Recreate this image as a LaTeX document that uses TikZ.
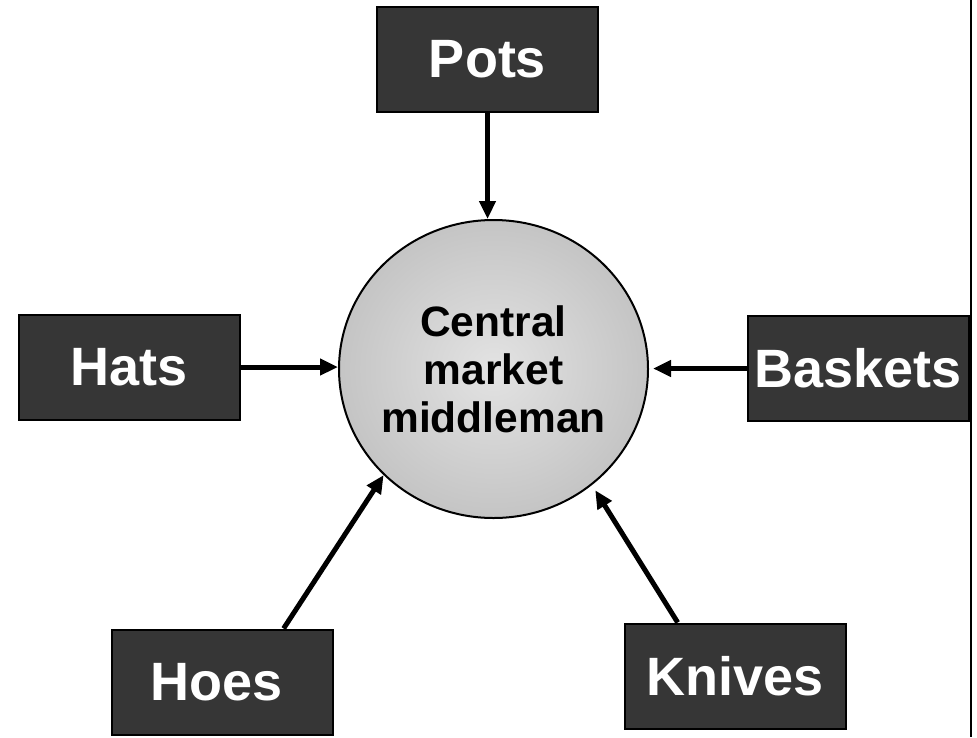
\documentclass[tikz,border=0pt]{standalone}
\usepackage{fontspec}
\setmainfont{Liberation Sans}
\usetikzlibrary{arrows.meta,shapes.geometric,calc}
\definecolor{boxfill}{HTML}{363636}
\tikzset{
  goodbox/.style={draw=black, line width=2pt, fill=boxfill, text=white,
    minimum width=221pt, minimum height=105pt, inner sep=0pt,
    font=\fontsize{54}{60}\selectfont\bfseries},
  hub/.style={ellipse, draw=black, line width=2pt,
    shading=radial, inner color=black!11, outer color=black!23,
    minimum width=309pt, minimum height=298pt, inner sep=0pt},
  hublabel/.style={align=center, inner sep=0pt,
    font=\fontsize{42.5}{48}\selectfont\bfseries},
  flow/.style={line width=5pt, -{Triangle[length=18pt,width=16pt]}}
}
\begin{document}
\begin{tikzpicture}[x=1pt,y=-1pt]
  \useasboundingbox (0,0) rectangle (977,737);
  % right-hand frame rule
  \coordinate (ruleTop) at (971,0);
  \coordinate (ruleBot) at (971,737);
  \draw[line width=2.5pt] (ruleTop) -- (ruleBot);

  % central market
  \node[hub] (mid) at (493.5,369) {};
  \node[hublabel] (midlabel) at (mid.center) {Central\\market\\middleman};

  % suppliers
  \node[goodbox] (pots)    at (487.5,59.5)  {Pots};
  \node[goodbox] (hats)    at (129,367)     {Hats};
  \node[goodbox] (baskets) at (858,368.5)   {Baskets};
  \node[goodbox, text width=221pt, align=center] (hoes) at (222.5,682) {Hoes\hspace*{12pt}};
  \node[goodbox] (knives)  at (735,676)     {Knives};

  % flows into the middleman
  \draw[flow] (pots.south) -- (pots.south |- mid.north);
  \draw[flow] (hats.east) -- (hats.east -| mid.west);
  \draw[flow] (baskets.west) -- ($(baskets.west -| mid.east)+(4,0)$);
  \draw[flow] ($(hoes.north west)!0.774!(hoes.north east)$) -- (mid.224);
  \draw[flow] ($(knives.north west)!0.243!(knives.north east)$) -- ($(mid.center)!1.04!(mid.310)$);
\end{tikzpicture}
\end{document}
